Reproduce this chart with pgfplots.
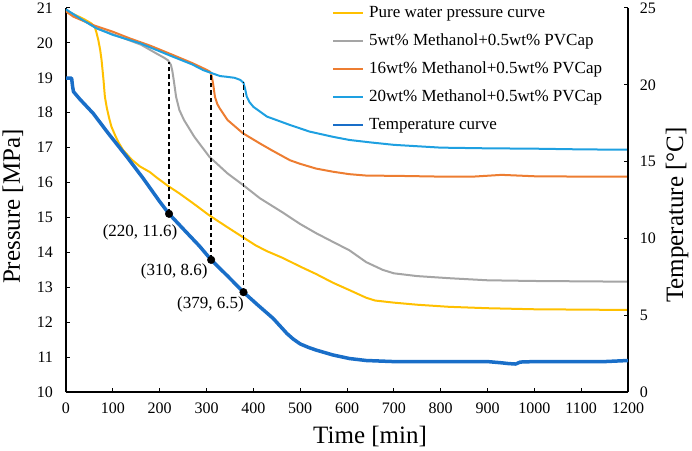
\documentclass[border=0pt]{standalone}
\usepackage{fontspec}
\setmainfont{Liberation Serif}
\usepackage{pgfplots}
\pgfplotsset{compat=1.18}
\definecolor{cyel}{RGB}{255,192,0}
\definecolor{cgray}{RGB}{165,165,165}
\definecolor{corg}{RGB}{237,125,49}
\definecolor{clb}{RGB}{30,160,225}
\definecolor{cdb}{RGB}{25,110,200}
\pgfplotsset{
  common/.style={
    scale only axis, width=562bp, height=384bp, at={(0,0)}, anchor=south west,
    xmin=0, xmax=1200,
    tick align=inside, major tick length=4.5bp,
    tick style={black, line width=1bp},
    axis line style={-, black, line width=1.2bp},
    every outer x axis line/.append style={-},
    every outer y axis line/.append style={-},
    every inner x axis line/.append style={-},
    every inner y axis line/.append style={-},
    /pgf/number format/assume math mode=true,
    /pgf/number format/1000 sep={},
    scaled x ticks=false, scaled y ticks=false,
    ticklabel style={font=\fontsize{16bp}{19bp}\selectfont},
  }
}
\begin{document}
\begin{tikzpicture}
\useasboundingbox (-66bp,-59bp) rectangle (626bp,392bp);
\begin{axis}[common,
  axis x line*=bottom, axis y line*=left,
  ymin=10, ymax=21,
  xtick={0,100,...,1200}, ytick={10,11,...,21},
  xticklabel style={yshift=-7.7bp},
  yticklabel style={xshift=-9.5bp},
  every axis x label/.style={at={(axis description cs:0.541,-0.1341)}, anchor=base, font=\fontsize{25bp}{30bp}\selectfont},
  every axis y label/.style={at={(axis description cs:-0.0819,0.483)}, anchor=base, rotate=90, font=\fontsize{25bp}{30bp}\selectfont},
  xlabel={Time [min]}, ylabel={Pressure [MPa]},
]
% pure water
\addplot[cyel, line width=2bp] coordinates {
(0,20.92) (20,20.8) (40,20.67) (55,20.55) (62,20.43) (65,20.3) (69,20.08) (73,19.8) (76,19.5) (80,18.95) (83,18.46) (87,18.15) (92,17.85) (97,17.6) (105,17.35) (112,17.15) (122,16.93) (140,16.66) (158,16.46) (179,16.3) (193,16.15) (216,15.92) (243,15.68) (270,15.42) (305,15.07) (340,14.76) (376,14.45) (405,14.2) (428,14.04) (463,13.84) (499,13.6) (534,13.38) (570,13.13) (605,12.92) (641,12.7) (660,12.62) (700,12.56) (750,12.5) (818,12.44) (900,12.4) (1000,12.37) (1100,12.36) (1200,12.35)};
% 5wt%
\addplot[cgray, line width=2bp] coordinates {
(0,20.95) (30,20.7) (65,20.42) (100,20.25) (160,19.95) (190,19.72) (210,19.57) (218,19.5) (224,19.37) (227,19.2) (230,18.94) (235,18.46) (242,18.08) (252,17.79) (274,17.31) (306,16.74) (345,16.26) (378,15.93) (414,15.55) (463,15.14) (499,14.82) (534,14.55) (570,14.3) (605,14.06) (641,13.72) (676,13.5) (700,13.4) (750,13.32) (818,13.26) (900,13.2) (1000,13.18) (1100,13.17) (1200,13.16)};
% 16wt%
\addplot[corg, line width=2bp] coordinates {
(0,20.9) (16,20.75) (58,20.51) (100,20.32) (136,20.13) (180,19.92) (229,19.65) (270,19.42) (300,19.23) (308,19.17) (311,19.05) (314,18.84) (318,18.46) (323,18.25) (328,18.13) (345,17.79) (378,17.41) (414,17.12) (440,16.92) (478,16.64) (499,16.54) (534,16.4) (570,16.31) (605,16.24) (641,16.2) (712,16.19) (800,16.17) (870,16.17) (930,16.22) (1000,16.18) (1100,16.17) (1200,16.17)};
% 20wt%
\addplot[clb, line width=2bp] coordinates {
(0,20.96) (30,20.7) (65,20.42) (100,20.23) (158,19.99) (200,19.76) (229,19.6) (270,19.38) (293,19.22) (310,19.14) (329,19.05) (343,19.03) (360,19.0) (372,18.94) (379,18.86) (383,18.65) (386,18.46) (392,18.3) (400,18.17) (429,17.89) (478,17.65) (520,17.46) (570,17.31) (605,17.22) (650,17.15) (700,17.08) (800,17.0) (900,16.98) (1000,16.97) (1100,16.95) (1200,16.94)};
% dashed guide lines
\addplot[black, line width=1.4bp, dash pattern=on 4.5bp off 3bp] coordinates {(220,15.104) (220,19.45)};
\addplot[black, line width=1.4bp, dash pattern=on 4.5bp off 3bp] coordinates {(310,13.784) (310,19.15)};
\addplot[black, line width=1.4bp, dash pattern=on 4.5bp off 3bp] coordinates {(379,12.86) (379,18.88)};
\end{axis}
\begin{axis}[common,
  axis y line*=right, axis x line=none,
  ymin=0, ymax=25, ytick={0,5,...,25},
  yticklabel style={xshift=8.4bp},
  every axis y label/.style={at={(axis description cs:1.0979,0.461)}, anchor=base, rotate=90, font=\fontsize{25bp}{30bp}\selectfont},
  ylabel={Temperature [°C]},
  legend cell align=left,
  legend style={draw=none, fill=none, at={(axis description cs:0.4733,1.0078)}, anchor=north west,
    row sep=12bp, column sep=4.5bp, inner sep=0pt,
    font=\fontsize{17bp}{20bp}\selectfont,
    nodes={inner sep=0pt, text height=12bp, text depth=4bp}},
  legend image code/.code={\draw[#1, line width=2.5bp] (0bp,0bp) -- (30bp,0bp);},
]
\addlegendimage{cyel}
\addlegendentry{Pure water pressure curve}
\addlegendimage{cgray}
\addlegendentry{5wt\% Methanol+0.5wt\% PVCap}
\addlegendimage{corg}
\addlegendentry{16wt\% Methanol+0.5wt\% PVCap}
\addlegendimage{clb}
\addlegendentry{20wt\% Methanol+0.5wt\% PVCap}
\addplot[cdb, line width=3.5bp, line join=round] coordinates {
(0,20.43) (12,20.43) (14,19.9) (16,19.55) (30,19.05) (58,18.14) (90,16.85) (129,15.35) (165,13.9) (200,12.4) (220,11.6) (257,10.4) (285,9.5) (310,8.6) (345,7.55) (379,6.5) (410,5.65) (442,4.8) (460,4.2) (472,3.8) (485,3.45) (500,3.13) (518,2.9) (534,2.73) (570,2.41) (605,2.18) (641,2.05) (700,1.98) (800,1.98) (900,1.98) (930,1.9) (945,1.85) (960,1.82) (970,1.95) (1000,1.98) (1150,1.98) (1200,2.05)};
\addlegendentry{Temperature curve}
\addplot[only marks, mark=*, mark size=3.8bp, black, forget plot] coordinates {(220,11.6) (310,8.6) (379,6.5)};
\node[font=\fontsize{17bp}{20bp}\selectfont, xshift=-29bp, yshift=-19bp] at (axis cs:220,11.6) {(220, 11.6)};
\node[font=\fontsize{17bp}{20bp}\selectfont, xshift=-37bp, yshift=-12bp] at (axis cs:310,8.6) {(310, 8.6)};
\node[font=\fontsize{17bp}{20bp}\selectfont, xshift=-33bp, yshift=-12bp] at (axis cs:379,6.5) {(379, 6.5)};
\end{axis}
\end{tikzpicture}
\end{document}
